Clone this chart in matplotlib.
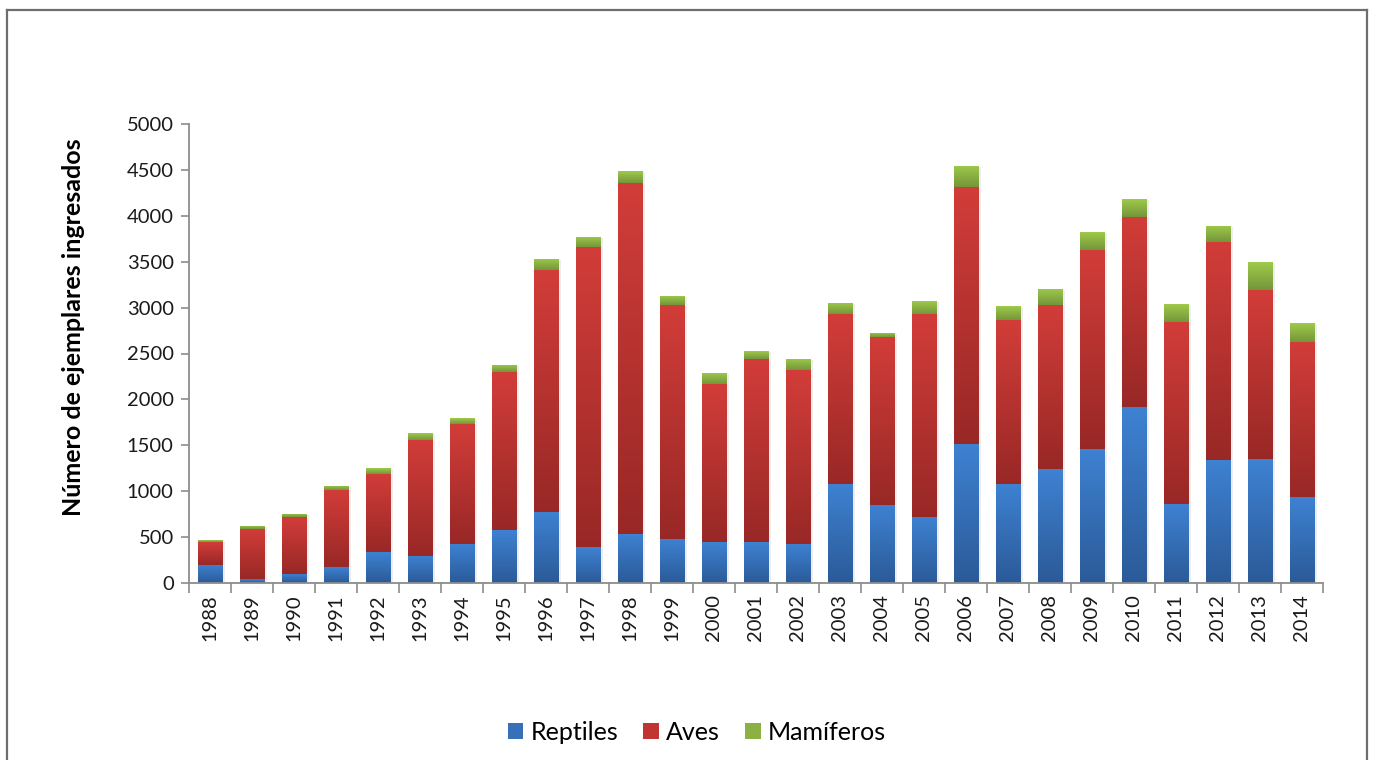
import numpy as np
import matplotlib
matplotlib.use("Agg")
import matplotlib.pyplot as plt
from matplotlib.colors import LinearSegmentedColormap
from matplotlib.lines import Line2D
from matplotlib.patches import Patch

plt.rcParams['font.family'] = ['Lato', 'DejaVu Sans']

# data
years = [str(y) for y in range(1988, 2015)]
reptiles = [200, 40, 100, 170, 335, 295, 425, 575, 775, 390, 535, 480, 445, 445,
            425, 1080, 850, 720, 1515, 1080, 1240, 1460, 1915, 860, 1340, 1350, 935]
aves = [245, 545, 620, 840, 850, 1265, 1305, 1720, 2635, 3270, 3820, 2550, 1720, 1995,
        1895, 1850, 1830, 2210, 2800, 1785, 1790, 2170, 2070, 1985, 2375, 1840, 1690]
mamiferos = [20, 35, 35, 45, 65, 75, 65, 85, 120, 110, 130, 100, 120, 85,
             120, 120, 45, 140, 230, 150, 175, 195, 195, 195, 175, 305, 205]

series = [
    ("Reptiles", reptiles, ("#3e82d2", "#2b5a98"), "#3670b8"),
    ("Aves", aves, ("#d23d39", "#982826"), "#c03532"),
    ("Mamíferos", mamiferos, ("#9fca4b", "#74963a"), "#8cb043"),
]

fig = plt.figure(figsize=(13.75, 7.6), dpi=100)
ax = fig.add_axes([189 / 1375, 1 - 583 / 760, (1323 - 189) / 1375, (583 - 124) / 760])

x = np.arange(len(years))
width = 0.58
bottom = np.zeros(len(years))

def gradient_fill(patch, colors):
    bx, by = patch.get_x(), patch.get_y()
    w, h = patch.get_width(), patch.get_height()
    if h <= 0:
        return
    cmap = LinearSegmentedColormap.from_list("g", [colors[1], colors[0]])
    grad = np.linspace(0, 1, 256).reshape(-1, 1)
    im = ax.imshow(grad, cmap=cmap, aspect="auto", origin="lower",
                   extent=[bx, bx + w, by, by + h], zorder=3)
    im.set_clip_path(patch)

handles = []
for name, vals, grad_cols, solid in series:
    vals = np.array(vals, dtype=float)
    # soft shadow on the right side
    ax.bar(x + 0.06, vals, width, bottom=bottom - 12, color="#000000",
           alpha=0.07, linewidth=0, zorder=2)
    bars = ax.bar(x, vals, width, bottom=bottom, color="none", linewidth=0, zorder=3)
    for p in bars:
        gradient_fill(p, grad_cols)
    bottom += vals
    handles.append(Patch(facecolor=solid, edgecolor="none", label=name))

ax.set_xlim(-0.5, len(years) - 0.5)
ax.set_ylim(0, 5000)
ax.set_yticks(np.arange(0, 5001, 500))
ax.set_xticks(x)
ax.set_xticklabels(years, rotation=90)
ax.set_xticks(np.arange(-0.5, len(years), 1), minor=True)

axis_col = "#8c8c8c"
for s in ["top", "right"]:
    ax.spines[s].set_visible(False)
for s in ["left", "bottom"]:
    ax.spines[s].set_color(axis_col)
    ax.spines[s].set_linewidth(1.3)
    ax.spines[s].set_zorder(4)

ax.tick_params(axis="y", length=6, width=1.2, color=axis_col, labelsize=14.5,
               labelcolor="#1a1a1a", pad=5)
ax.tick_params(axis="x", which="major", length=0, labelsize=14.5,
               labelcolor="#1a1a1a", pad=8)
ax.tick_params(axis="x", which="minor", length=7, width=1.2, color=axis_col)

ax.set_ylabel("Número de ejemplares ingresados", fontsize=18, fontweight="bold")
ax.yaxis.set_label_coords(-0.092, 0.558)

fig.legend(handles=handles, loc="center", bbox_to_anchor=(697 / 1375, 1 - 732 / 760),
           ncol=3, frameon=False, fontsize=18, handlelength=0.62, handleheight=0.62,
           handletextpad=0.3, columnspacing=1.0)

# outer chart border
bc = "#6e6e6e"
fig.add_artist(Line2D([7 / 1375, 7 / 1375], [0, 1 - 9.5 / 760], color=bc, lw=1.6))
fig.add_artist(Line2D([7 / 1375, 1366.5 / 1375], [1 - 9.5 / 760, 1 - 9.5 / 760], color=bc, lw=1.6))
fig.add_artist(Line2D([1366.5 / 1375, 1366.5 / 1375], [0, 1 - 9.5 / 760], color=bc, lw=1.6))

fig.savefig("out.png", dpi=100)
